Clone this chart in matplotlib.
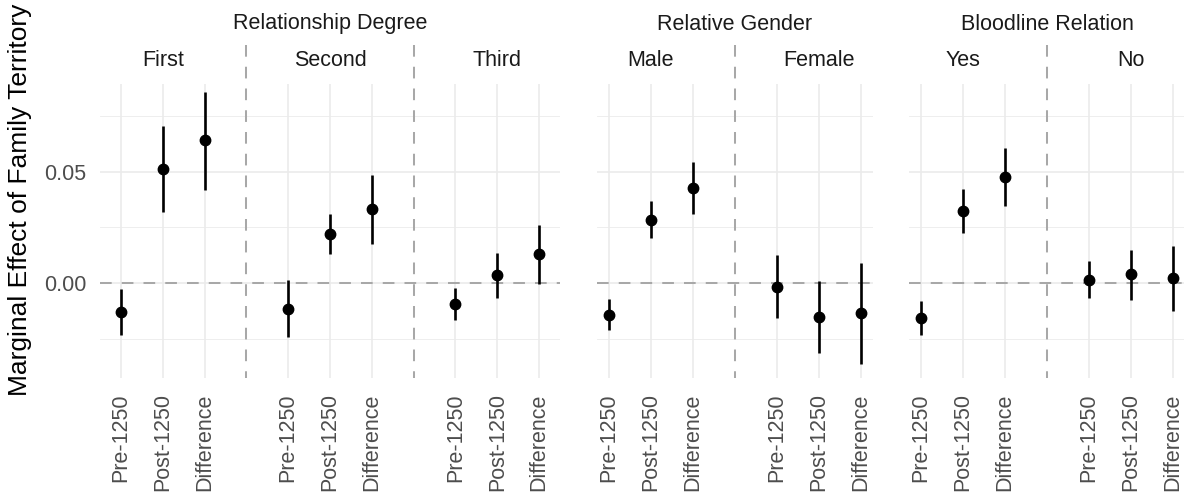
import numpy as np
import matplotlib
matplotlib.use("Agg")
import matplotlib.pyplot as plt
from matplotlib import transforms

plt.rcParams['font.family'] = ['Liberation Sans', 'DejaVu Sans']

# Data
periods = ["Pre-1250", "Post-1250", "Difference"]
group_titles = ["Relationship Degree", "Relative Gender", "Bloodline Relation"]
subgroups = [["First", "Second", "Third"], ["Male", "Female"], ["Yes", "No"]]

estimate = [
    [-0.0131, 0.0512, 0.0643],   # First
    [-0.0116, 0.0218, 0.0332],   # Second
    [-0.0093, 0.0035, 0.0128],   # Third
    [-0.0146, 0.0285, 0.0428],   # Male
    [-0.0018, -0.0153, -0.0135], # Female
    [-0.0156, 0.0324, 0.0477],   # Yes
    [0.0015, 0.0038, 0.0020],    # No
]
lower = [
    [-0.0236, 0.0320, 0.0419],
    [-0.0243, 0.0128, 0.0177],
    [-0.0168, -0.0070, -0.0006],
    [-0.0213, 0.0200, 0.0312],
    [-0.0160, -0.0315, -0.0363],
    [-0.0233, 0.0225, 0.0347],
    [-0.0070, -0.0078, -0.0126],
]
upper = [
    [-0.0028, 0.0706, 0.0857],
    [0.0012, 0.0308, 0.0485],
    [-0.0021, 0.0135, 0.0260],
    [-0.0073, 0.0368, 0.0542],
    [0.0125, 0.0008, 0.0090],
    [-0.0081, 0.0420, 0.0608],
    [0.0098, 0.0147, 0.0165],
]

W, H = 1184, 494
fig = plt.figure(figsize=(W / 100, H / 100), dpi=100)

GRID = '#ebebeb'
DASH = '#a8a8a8'
PANEL_TOP, PANEL_BOTTOM = 84, 378
group_boxes = [(100, 560, 0.5), (597, 873, 0.28), (909, 1185, 0.28)]


def fy(px):
    # pixel row from the top -> figure fraction
    return 1 - px / H


k = 0
for g, title in enumerate(group_titles):
    left, right, pad = group_boxes[g]
    ax = fig.add_axes([left / W, fy(PANEL_BOTTOM), (right - left) / W, (PANEL_BOTTOM - PANEL_TOP) / H])
    blend = transforms.blended_transform_factory(ax.transData, fig.transFigure)
    n = len(subgroups[g])
    ticks, labels = [], []
    for j, sub in enumerate(subgroups[g]):
        x = np.arange(1, 4) + 4 * j
        ax.vlines(x, lower[k], upper[k], color='black', lw=1.9, zorder=3)
        ax.plot(x, estimate[k], 'o', color='black', ms=7.5, zorder=4)
        ticks += list(x)
        labels += periods
        ax.text(4 * j + 2, fy(61), sub, transform=blend, ha='center', va='center',
                fontsize=15.5, color='#1a1a1a')
        if j < n - 1:
            ax.plot([4 * j + 4] * 2, [fy(45), fy(PANEL_BOTTOM)], transform=blend, clip_on=False,
                    color=DASH, lw=1.45, dashes=(5.8, 5), zorder=2)
        k += 1

    ax.axhline(0, color=DASH, lw=1.45, dashes=(5.8, 5), zorder=2)
    ax.set_xlim(1 - pad, 4 * (n - 1) + 3 + pad)
    ax.set_ylim(-0.04276, 0.08943)
    ax.set_xticks(ticks)
    ax.set_xticklabels(labels, rotation=90, fontsize=15.5, color='#4d4d4d')
    ax.set_yticks([0.0, 0.05])
    ax.set_yticks([-0.025, 0.025, 0.075], minor=True)
    ax.set_yticklabels(['0.00', '0.05'], fontsize=15.5, color='#4d4d4d')
    ax.tick_params(which='both', length=0)
    ax.tick_params(axis='x', pad=11)
    ax.tick_params(axis='y', pad=10)
    if g > 0:
        ax.tick_params(labelleft=False)
    ax.grid(which='major', color=GRID, lw=1.2)
    ax.grid(which='minor', axis='y', color=GRID, lw=0.6)
    ax.set_axisbelow(True)
    for s in ax.spines.values():
        s.set_visible(False)

    fig.text((left + right) / 2 / W, fy(24), title, ha='center', va='center',
             fontsize=15.5, color='#1a1a1a')

fig.text(20 / W, fy(200), 'Marginal Effect of Family Territory', rotation=90,
         ha='center', va='center', fontsize=19, color='black')

fig.savefig('out.png', dpi=100)
